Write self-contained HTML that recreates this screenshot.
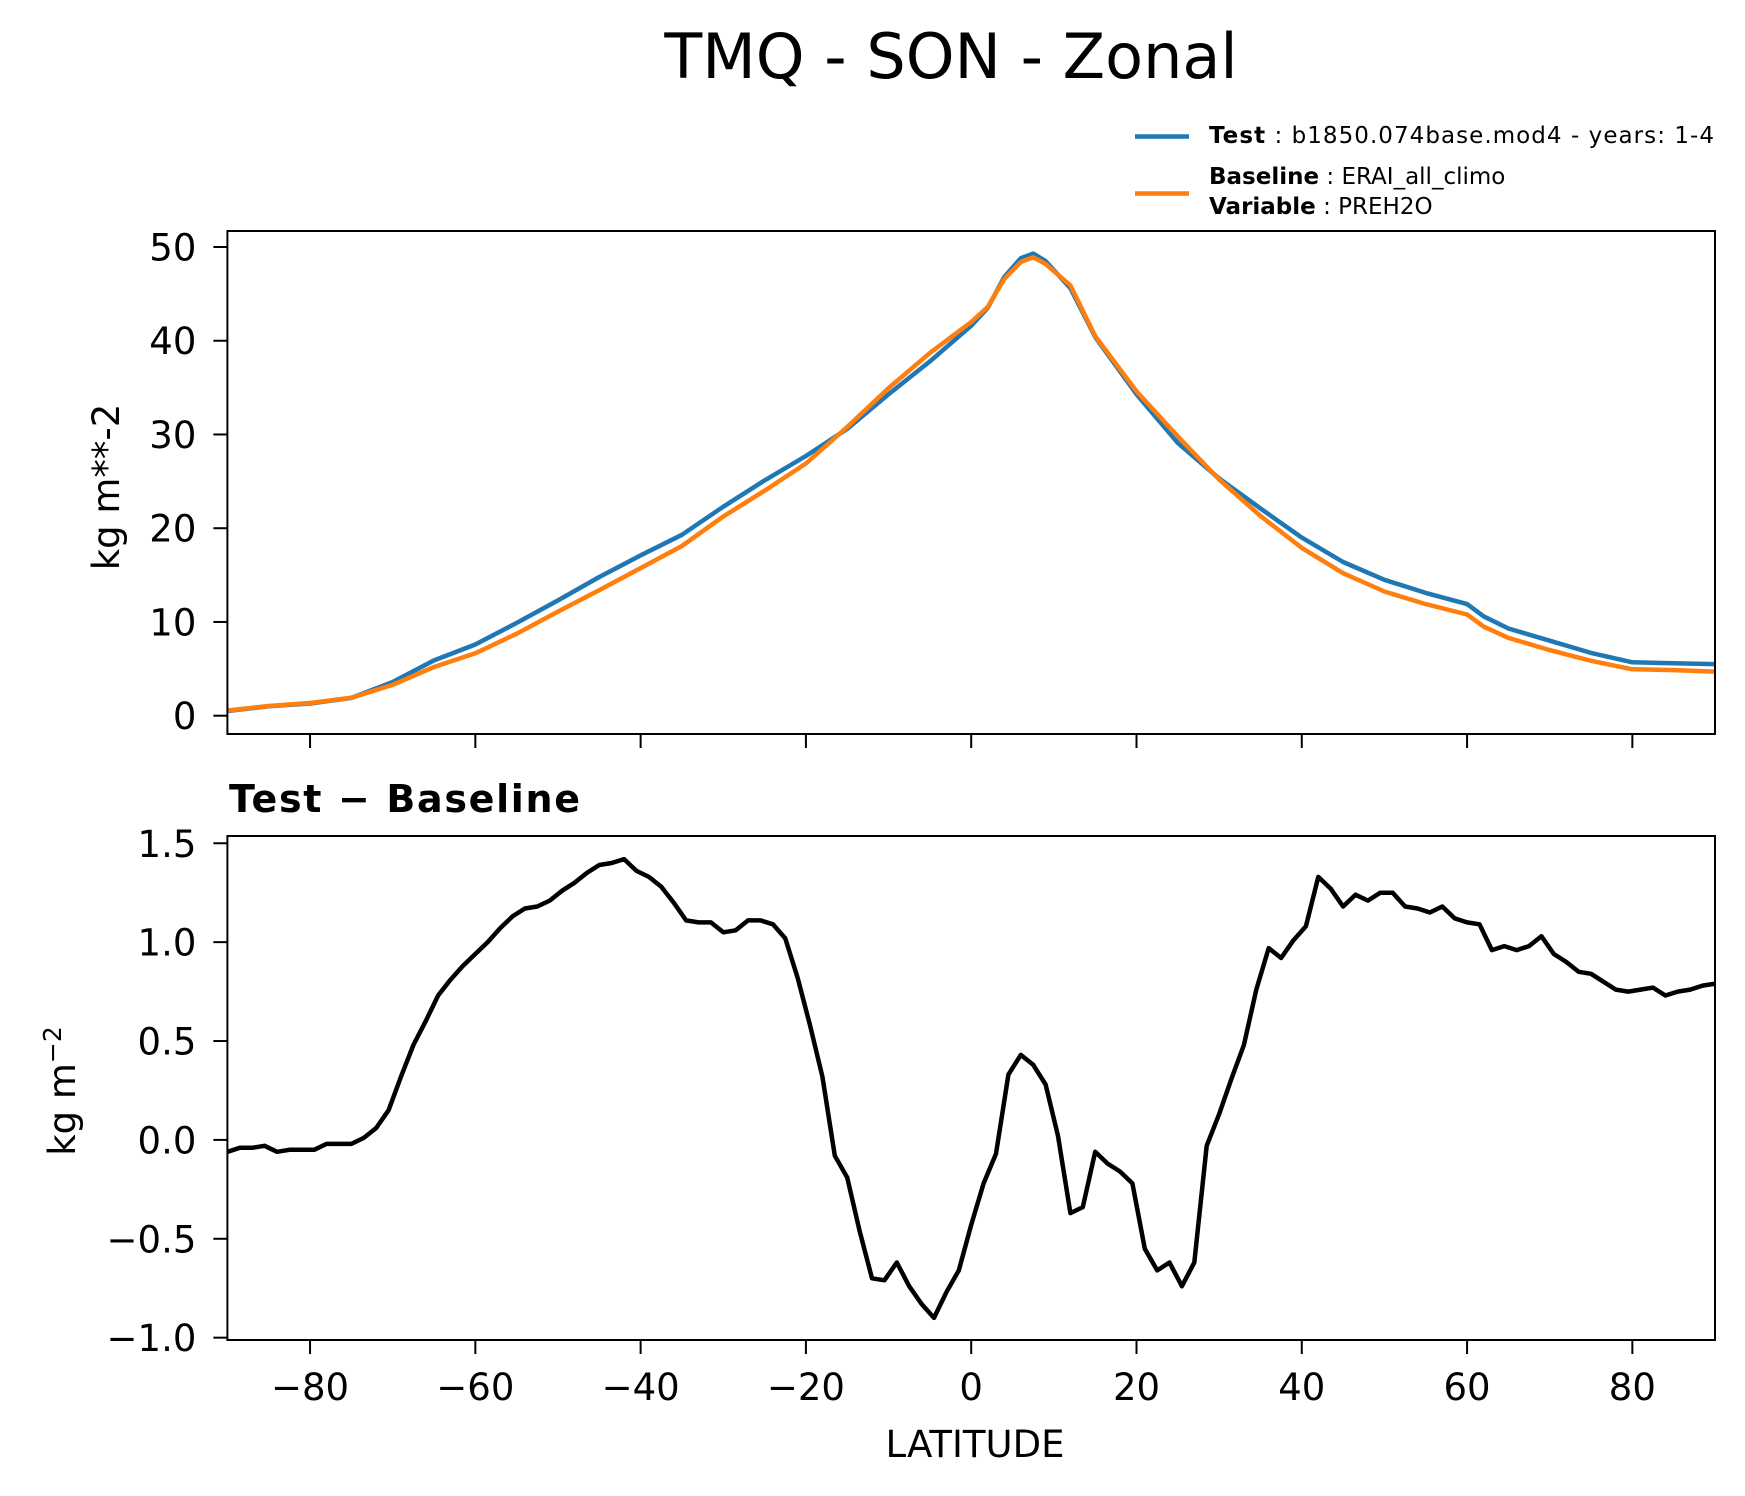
<!DOCTYPE html>
<html><head><meta charset="utf-8"><style>
html,body{margin:0;padding:0;background:#fff}
svg{display:block}
text{font-family:"DejaVu Sans","Liberation Sans",sans-serif;fill:#000}
</style></head><body>
<svg id="fig" width="1745" height="1496" viewBox="0 0 1745 1496" xmlns="http://www.w3.org/2000/svg">
<rect width="1745" height="1496" fill="#fff"/>
<text x="951" y="78" font-size="62" text-anchor="middle">TMQ - SON - Zonal</text>
<g>
<line x1="1135" y1="136.5" x2="1189" y2="136.5" stroke="#1f77b4" stroke-width="4.5"/>
<text x="1209" y="143" font-size="23" textLength="505"><tspan font-weight="bold">Test</tspan> : b1850.074base.mod4 - years: 1-4</text>
<line x1="1135" y1="193.5" x2="1189" y2="193.5" stroke="#ff7f0e" stroke-width="4.5"/>
<text x="1209" y="184" font-size="23"><tspan font-weight="bold">Baseline</tspan> : ERAI_all_climo</text>
<text x="1209" y="214" font-size="23"><tspan font-weight="bold">Variable</tspan> : PREH2O</text>
</g>
<g id="top"></g>
<g id="bot"></g>
<text transform="translate(119,487) rotate(-90)" font-size="37" text-anchor="middle">kg m**-2</text>
<text transform="translate(75,1091) rotate(-90)" font-size="37" text-anchor="middle">kg m<tspan font-size="25" dy="-14">−2</tspan></text>
<text x="229" y="812" font-size="38" font-weight="bold" textLength="351">Test − Baseline</text>
<text x="975" y="1457" font-size="37" text-anchor="middle">LATITUDE</text>
</svg>
<script>
const latTop=[-90,-85,-80,-75,-70,-65,-60,-55,-50,-45,-40,-35,-30,-25,-20,-15,-10,-5,0,2,4,6,7.5,9,12,15,20,25,30,35,40,45,50,55,60,62,65,70,75,80,85,90];
const testVals=[0.5,1.0,1.3,1.9,3.6,5.9,7.6,9.9,12.3,14.8,17.1,19.3,22.3,25.1,27.7,30.6,34.3,37.8,41.6,43.5,46.8,48.8,49.3,48.5,45.6,40.4,34.3,29.1,25.3,22.1,19.0,16.4,14.5,13.1,11.9,10.6,9.3,8.0,6.7,5.7,5.6,5.5];
const baseVals=[0.56,1.03,1.35,1.92,3.3,5.2,6.66,8.75,11.1,13.4,15.75,18.1,21.25,24.0,26.9,30.8,34.95,38.7,42.0,43.6,46.6,48.4,48.9,48.2,45.9,40.5,34.6,29.8,25.2,21.3,17.9,15.2,13.25,11.9,10.8,9.5,8.3,7.0,5.86,4.95,4.86,4.7];
const diffStart=-90, diffStep=1.5;
const diffVals=[-0.06,-0.04,-0.04,-0.03,-0.06,-0.05,-0.05,-0.05,-0.02,-0.02,-0.02,0.01,0.06,0.15,0.32,0.48,0.6,0.73,0.81,0.88,0.94,1.0,1.07,1.13,1.17,1.18,1.21,1.26,1.3,1.35,1.39,1.4,1.42,1.36,1.33,1.28,1.2,1.11,1.1,1.1,1.05,1.06,1.11,1.11,1.09,1.02,0.82,0.58,0.32,-0.08,-0.19,-0.46,-0.7,-0.71,-0.62,-0.74,-0.83,-0.9,-0.77,-0.66,-0.43,-0.22,-0.07,0.33,0.43,0.38,0.28,0.02,-0.37,-0.34,-0.06,-0.12,-0.16,-0.22,-0.55,-0.66,-0.62,-0.74,-0.62,-0.03,0.13,0.31,0.48,0.76,0.97,0.92,1.01,1.08,1.33,1.27,1.18,1.24,1.21,1.25,1.25,1.18,1.17,1.15,1.18,1.12,1.1,1.09,0.96,0.98,0.96,0.98,1.03,0.94,0.9,0.85,0.84,0.8,0.76,0.75,0.76,0.77,0.73,0.75,0.76,0.78,0.79];
const xTicks=[-80,-60,-40,-20,0,20,40,60,80];
const topTicks=[0,10,20,30,40,50];
const botTicks=[-1.0,-0.5,0.0,0.5,1.0,1.5];
const botTickLabels=["−1.0","−0.5","0.0","0.5","1.0","1.5"];

const NS="http://www.w3.org/2000/svg";
const L=227.4,R=1715;
const xs=v=>L+(v+90)/180*(R-L);
const yTop=v=>715.7-v*9.374;
const yBot=v=>1139.9-v*197.76;
function mk(tag,attrs,parent){const e=document.createElementNS(NS,tag);for(const k in attrs)e.setAttribute(k,attrs[k]);parent.appendChild(e);return e;}
function panel(g,top,bot,ticks,labels,ys,showX,pre){
  const cp=mk('clipPath',{id:pre+'clip'},g);
  mk('rect',{x:L,y:top,width:R-L,height:bot-top},cp);
  ticks.forEach((t,i)=>{
    const y=ys(t);
    const tk=mk('line',{x1:L-14,x2:L,y1:y,y2:y,stroke:'#000','stroke-width':2},g);
    
    
    const tx=mk('text',{x:L-31,y:y+13.5,'font-size':37,'text-anchor':'end'},g);
    tx.textContent=labels[i];
    
    
  });
  xTicks.forEach(t=>{
    const x=xs(t);
    const tk=mk('line',{x1:x,x2:x,y1:bot,y2:bot+14,stroke:'#000','stroke-width':2},g);
    
    
    if(showX){
      const tx=mk('text',{x:x,y:bot+60,'font-size':37,'text-anchor':'middle'},g);
      tx.textContent=(t<0?'−':'')+Math.abs(t);
      
      
    }
  });
}
function line(g,lats,vals,ys,color,name,clip){
  const d=vals.map((v,i)=>(i?'L':'M')+xs(lats[i]).toFixed(1)+' '+ys(v).toFixed(1)).join('');
  const p=mk('path',{d:d,fill:'none',stroke:color,'stroke-width':4.5,'stroke-linejoin':'round','clip-path':'url(#'+clip+')'},g);
  
  
}
const gt=document.getElementById('top'), gb=document.getElementById('bot');
panel(gt,231,734,topTicks,topTicks.map(String),yTop,false,'t');
line(gt,latTop,testVals,yTop,'#1f77b4','test-line','tclip');
line(gt,latTop,baseVals,yTop,'#ff7f0e','baseline-line','tclip');
const f1=mk('rect',{x:L,y:231,width:R-L,height:503,fill:'none',stroke:'#000','stroke-width':2},gt);


panel(gb,836,1340,botTicks,botTickLabels,yBot,true,'b');
const diffLat=diffVals.map((v,i)=>diffStart+i*diffStep);
line(gb,diffLat,diffVals,yBot,'#000','difference-line','bclip');
const f2=mk('rect',{x:L,y:836,width:R-L,height:504,fill:'none',stroke:'#000','stroke-width':2},gb);


</script>
</body></html>
